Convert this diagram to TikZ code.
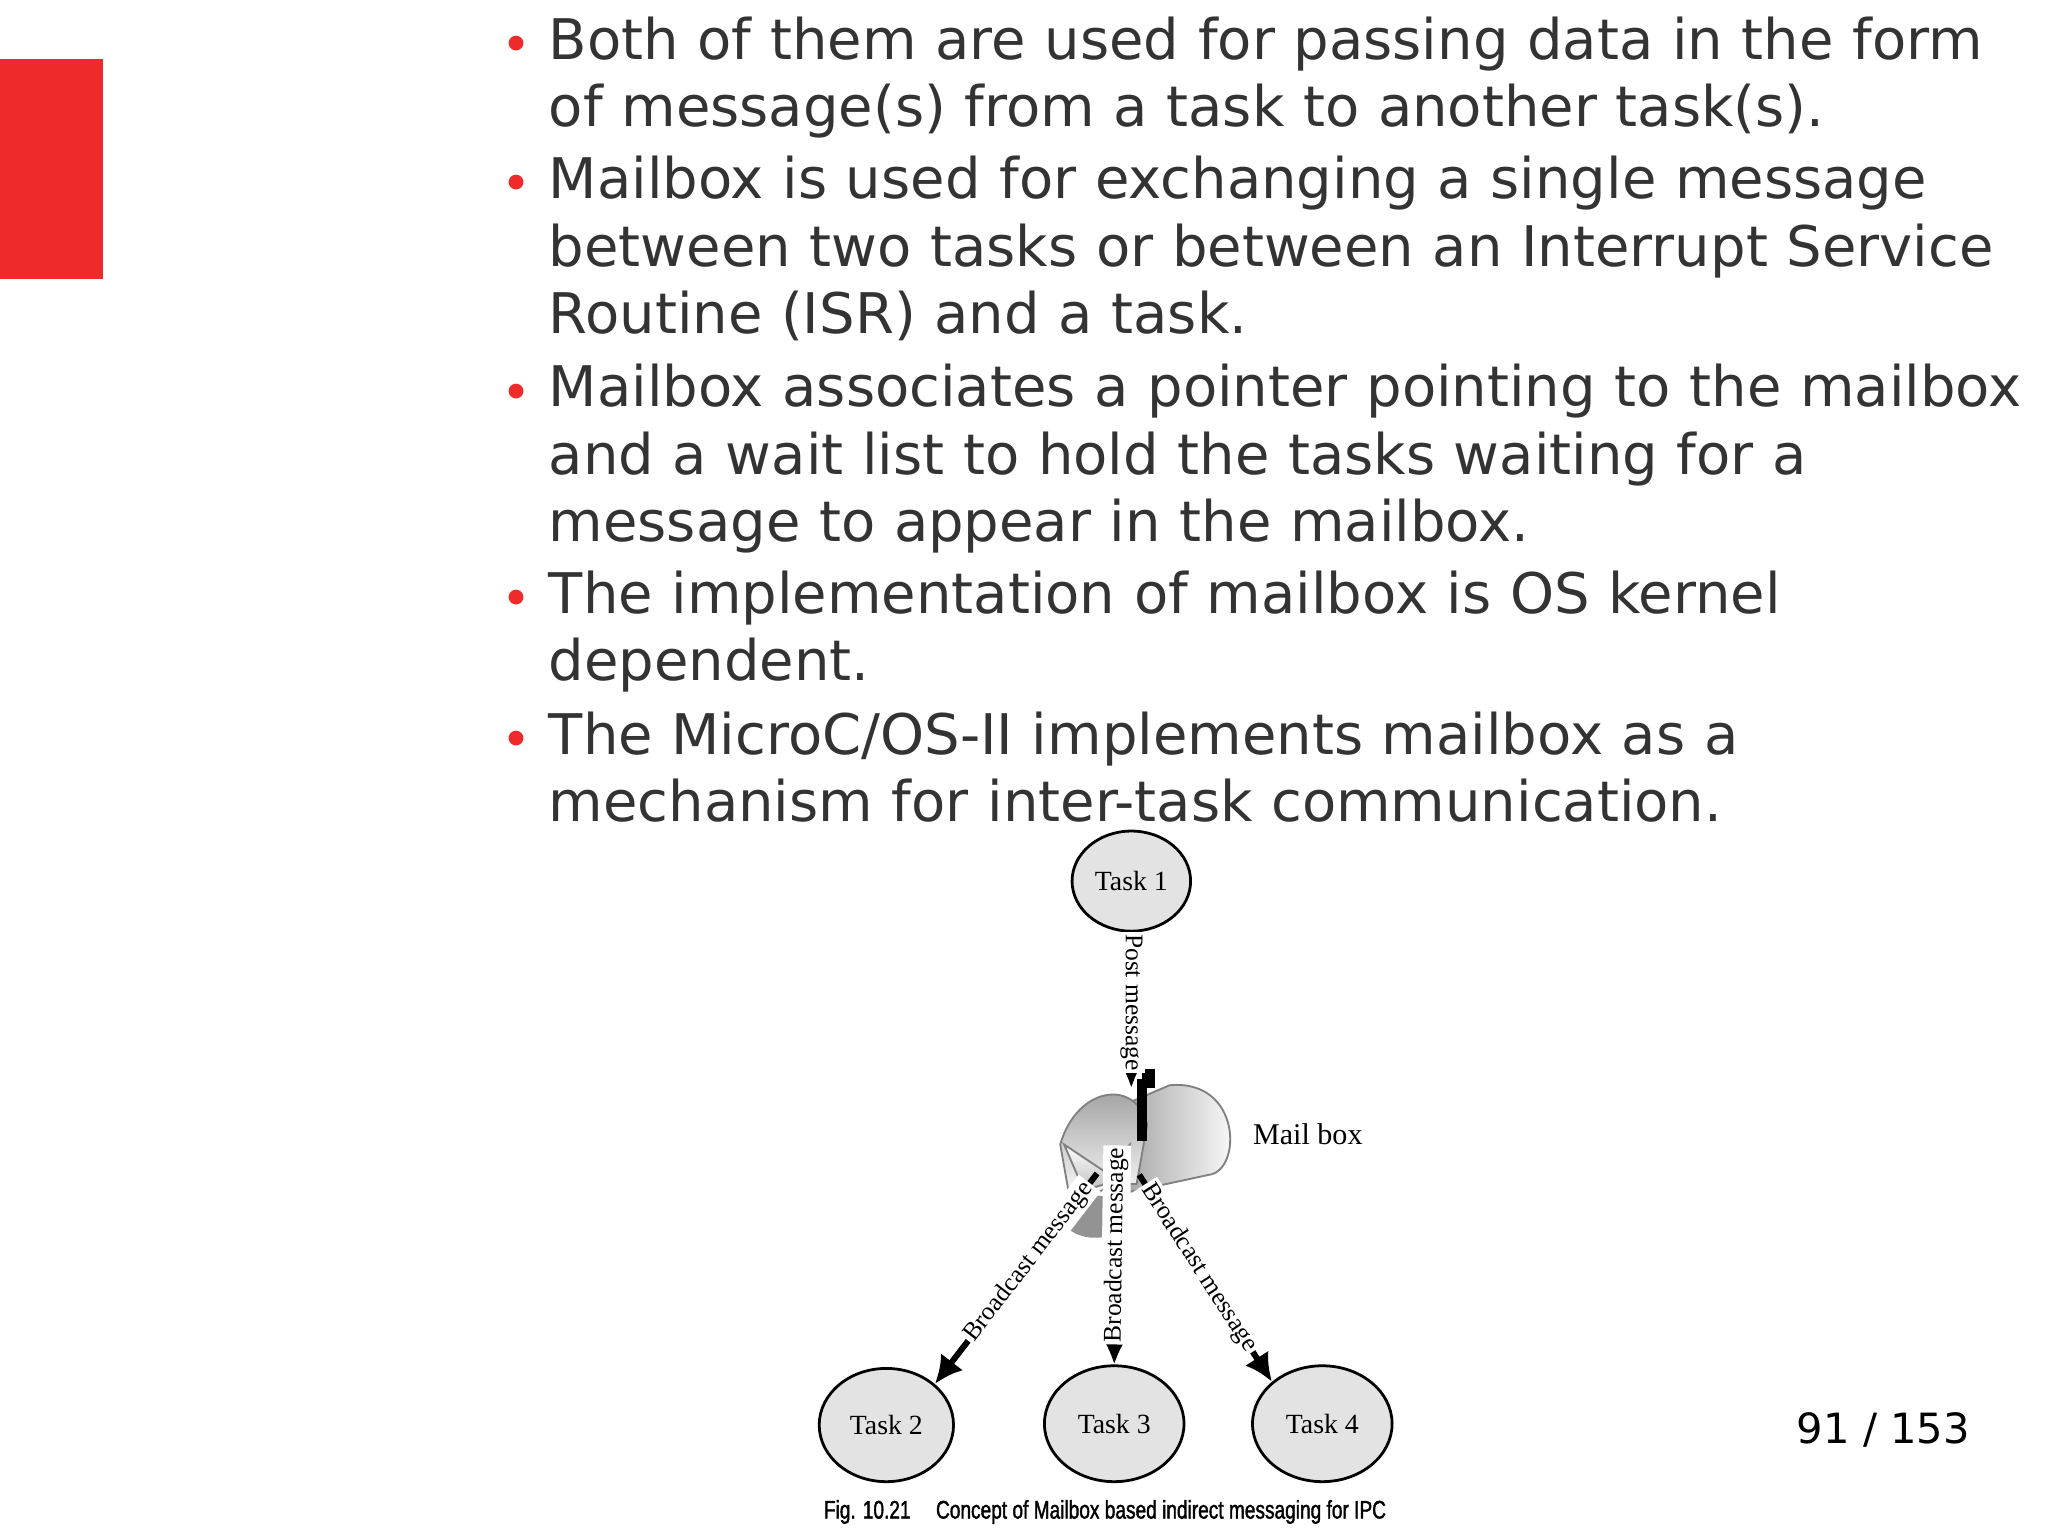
\documentclass[tikz,border=0pt]{standalone}
\usepackage{fontspec}
\setmainfont{DejaVu Sans}
\newfontfamily\serifx{Liberation Serif}
\newfontfamily\capf{Liberation Sans}[FakeStretch=0.75,FakeBold=1.5]
\usetikzlibrary{arrows.meta,shapes.geometric}
\definecolor{txt}{HTML}{333333}
\definecolor{redbar}{HTML}{EE2A2A}
\begin{document}
\begin{tikzpicture}[x=1cm,y=1cm,
  task/.style={ellipse,draw=black,fill=gray!22,line width=0.6pt,inner sep=0pt,font=\serifx\fontsize{6}{7}\selectfont},
  conn/.style={line width=1.3pt,-{Latex[length=6pt,width=6pt]}},
  lab/.style={font=\serifx\fontsize{5.5}{6}\selectfont,fill=white,inner sep=0.5pt,sloped},
  bul/.style={anchor=north west,align=left,text width=12cm,font=\fontsize{12.1}{14.5}\selectfont,text=txt,inner sep=0pt}]
\useasboundingbox (0,0) rectangle (15.55,-11.66);
\fill[redbar] (0,-0.45) rectangle (0.78,-2.12);
% bullets
\foreach \yy/\t in {0.12/{Both of them are used for passing data in the form\\of message(s) from a task to another task(s).},
 1.18/{Mailbox is used for exchanging a single message\\between two tasks or between an Interrupt Service\\Routine (ISR) and a task.},
 2.76/{Mailbox associates a pointer pointing to the mailbox\\and a wait list to hold the tasks waiting for a\\message to appear in the mailbox.},
 4.33/{The implementation of mailbox is OS kernel\\dependent.},
 5.40/{The MicroC/OS-II implements mailbox as a\\mechanism for inter-task communication.}}{
 \node[bul] at (4.16,-\yy) {\t};
 \node[text=redbar,font=\fontsize{11}{12}\selectfont,anchor=north] at (3.92,-\yy-0.03) {•};
}
\begin{scope}[shift={(-0.07,0.06)}]
% tasks
\node[task,minimum width=0.90cm,minimum height=0.76cm] (t1) at (8.66,-6.75) {Task 1};
\node[task,minimum width=1.02cm,minimum height=0.86cm] (t2) at (6.80,-10.88) {Task 2};
\node[task,minimum width=1.06cm,minimum height=0.88cm] (t3) at (8.53,-10.87) {Task 3};
\node[task,minimum width=1.06cm,minimum height=0.88cm] (t4) at (10.11,-10.87) {Task 4};
% mailbox
\shade[left color=gray!70,right color=white,draw=gray] (8.60,-8.45) -- (8.95,-8.30) .. controls (9.50,-8.25) and (9.50,-8.95) .. (9.25,-8.98) -- (8.60,-9.12) -- cycle;
\shade[top color=gray!80,bottom color=white,draw=gray] (8.12,-8.75) .. controls (8.25,-8.30) and (8.70,-8.25) .. (8.78,-8.60) -- (8.70,-9.05) -- (8.55,-9.05) -- (8.20,-9.20) -- cycle;
\shade[top color=white,bottom color=gray!50,draw=gray] (8.15,-8.75) -- (8.45,-8.95) -- (8.65,-8.75) -- (8.62,-9.00) -- (8.30,-9.10) -- cycle;
\fill[gray!85] (8.10,-9.30) .. controls (8.30,-9.10) and (8.45,-9.12) .. (8.55,-9.18) -- (8.58,-9.42) .. controls (8.35,-9.50) and (8.20,-9.45) .. (8.10,-9.30);
\draw[line width=2pt] (8.74,-8.72) -- (8.74,-8.25);
\fill (8.74,-8.18) rectangle (8.84,-8.32);
\fill (8.50,-8.88) rectangle (8.60,-8.98);
\node[coordinate] (mbtop) at (8.66,-8.32) {};
\node[coordinate] (mbl) at (8.40,-8.97) {};
\node[coordinate] (mbc) at (8.55,-8.98) {};
\node[coordinate] (mbr) at (8.72,-8.98) {};
\node[font=\serifx\fontsize{6.5}{7}\selectfont,anchor=west] (mb) at (9.46,-8.67) {Mail box};
% connectors
\draw[conn] (t1.south) -- node[lab,pos=0.45] {Post message} (mbtop);
\draw[conn] (mbl) -- node[lab,pos=0.42] {Broadcast message} (t2.north east);
\draw[conn] (mbc) -- node[lab,pos=0.37] {Broadcast message} (t3.north);
\draw[conn] (mbr) -- node[lab,pos=0.45] {Broadcast message} (t4.north west);
\node[font=\capf\fontsize{5.5}{6}\selectfont] (cap) at (8.46,-11.54) {Fig. 10.21\quad Concept of Mailbox based indirect messaging for IPC};
\end{scope}
\node[font=\fontsize{9}{11}\selectfont] (pg) at (14.30,-10.86) {91 / 153};
\end{tikzpicture}
\end{document}
